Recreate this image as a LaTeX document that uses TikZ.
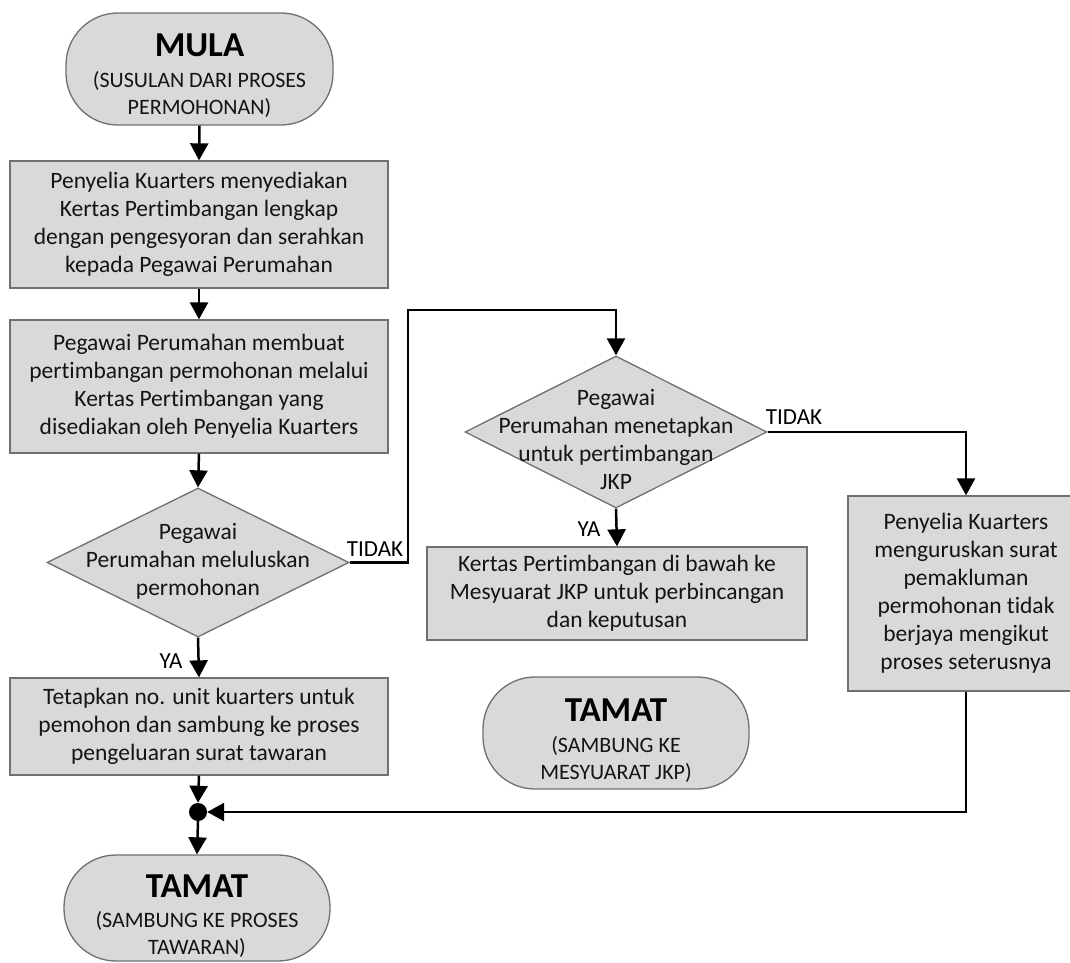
\documentclass[tikz,border=0pt]{standalone}
\usepackage{fontspec}
\setmainfont{Carlito}[Ligatures=NoCommon]
\usetikzlibrary{arrows.meta,shapes.geometric}
\definecolor{boxfill}{HTML}{D9D9D9}
\definecolor{boxline}{HTML}{707070}
\definecolor{txt}{HTML}{141414}
\tikzset{
  procbox/.style={draw=boxline, line width=1.3pt, fill=boxfill, rectangle, inner sep=0pt, text=txt, align=center,
    font=\fontsize{23.5}{28}\selectfont},
  pill/.style={draw=boxline, line width=1.3pt, fill=boxfill, rectangle, rounded corners=52pt, inner sep=0pt},
  decision/.style={draw=boxline, line width=1.3pt, fill=boxfill, diamond, inner sep=0pt},
  dtext/.style={inner sep=0pt, text=txt, align=center, font=\fontsize{23.5}{28}\selectfont},
  pilltext/.style={inner sep=0pt, text=txt, align=center, font=\fontsize{22}{27}\selectfont},
  titletext/.style={inner sep=0pt, text=black, font=\fontsize{35}{35}\selectfont\bfseries},
  lbl/.style={inner sep=0pt, text=black, font=\fontsize{23}{26}\selectfont},
  arr/.style={line width=2.5pt, black, -{Triangle[length=17pt,width=18pt]}},
  junction/.style={circle, fill=black, minimum size=18pt, inner sep=0pt}
}
\begin{document}
\begin{tikzpicture}[x=1pt,y=-1pt]
\useasboundingbox (0,0) rectangle (1070,963);
\fill[white] (0,0) rectangle (1070,963);

% start pill
\node[pill, minimum width=267pt, minimum height=112pt] (mula) at (199.5,69) {};
\node[titletext] (mulat) at (199.5,45) {MULA};
\node[pilltext] (mulas) at (199.5,94) {(SUSULAN DARI PROSES\\PERMOHONAN)};

% process boxes left column
\node[procbox, minimum width=378pt, minimum height=127pt] (b1) at (199,224.5)
  {Penyelia Kuarters menyediakan\\Kertas Pertimbangan lengkap\\dengan pengesyoran dan serahkan\\kepada Pegawai Perumahan};
\node[procbox, minimum width=378pt, minimum height=133pt] (b2) at (199,386.5)
  {Pegawai Perumahan membuat\\pertimbangan permohonan melalui\\Kertas Pertimbangan yang\\disediakan oleh Penyelia Kuarters};
\node[decision, minimum width=302pt, minimum height=149pt] (d1) at (198,562.5) {};
\node[dtext] (d1t) at (198,561) {Pegawai\\Perumahan meluluskan\\permohonan};
\node[procbox, minimum width=378pt, minimum height=97pt] (b5) at (199,726.5)
  {Tetapkan no. unit kuarters untuk\\pemohon dan sambung ke proses\\pengeluaran surat tawaran};
\node[junction] (dot) at (198,812) {};
\node[pill, minimum width=266pt, minimum height=106pt] (tamat1) at (197,908) {};
\node[titletext] (tamat1t) at (197,886) {TAMAT};
\node[pilltext] (tamat1s) at (197,934) {(SAMBUNG KE PROSES\\TAWARAN)};

% middle column
\node[decision, minimum width=302pt, minimum height=152pt] (d2) at (616,432) {};
\node[dtext] (d2t) at (616,439) {Pegawai\\Perumahan menetapkan\\untuk pertimbangan\\JKP};
\node[procbox, minimum width=380pt, minimum height=93pt] (b3) at (617,593.5)
  {Kertas Pertimbangan di bawah ke\\Mesyuarat JKP untuk perbincangan\\dan keputusan};
\node[pill, minimum width=266pt, minimum height=112pt] (tamat2) at (616,733) {};
\node[titletext] (tamat2t) at (616,710) {TAMAT};
\node[pilltext] (tamat2s) at (616,759) {(SAMBUNG KE\\MESYUARAT JKP)};

% right column
\node[procbox, minimum width=236pt, minimum height=195pt] (b4) at (966,593.5)
  {Penyelia Kuarters\\menguruskan surat\\pemakluman\\permohonan tidak\\berjaya mengikut\\proses seterusnya};

% connectors
\coordinate (c1) at (408,310);
\draw[arr] (mula.south) -- (b1.north);
\draw[arr] (b1.south) -- (b2.north);
\draw[arr] (b2.south) -- (d1.north);
\draw[arr] (d1.south) -- (b5.north);
\draw[arr] (b5.south) -- (dot.north);
\draw[arr] (dot.south) -- (tamat1.north);
\draw[arr] (d1.east) -| (c1) -| (d2.north);
\draw[arr] (d2.south) -- (b3.north);
\draw[arr] (d2.east) -| (b4.north);
\draw[arr] (b4.south) |- (dot.east);

% labels
\node[lbl] (t1) at (375,549) {TIDAK};
\node[lbl] (t2) at (794,417) {TIDAK};
\node[lbl] (y1) at (171,661) {YA};
\node[lbl] (y2) at (589,529) {YA};
\end{tikzpicture}
\end{document}
